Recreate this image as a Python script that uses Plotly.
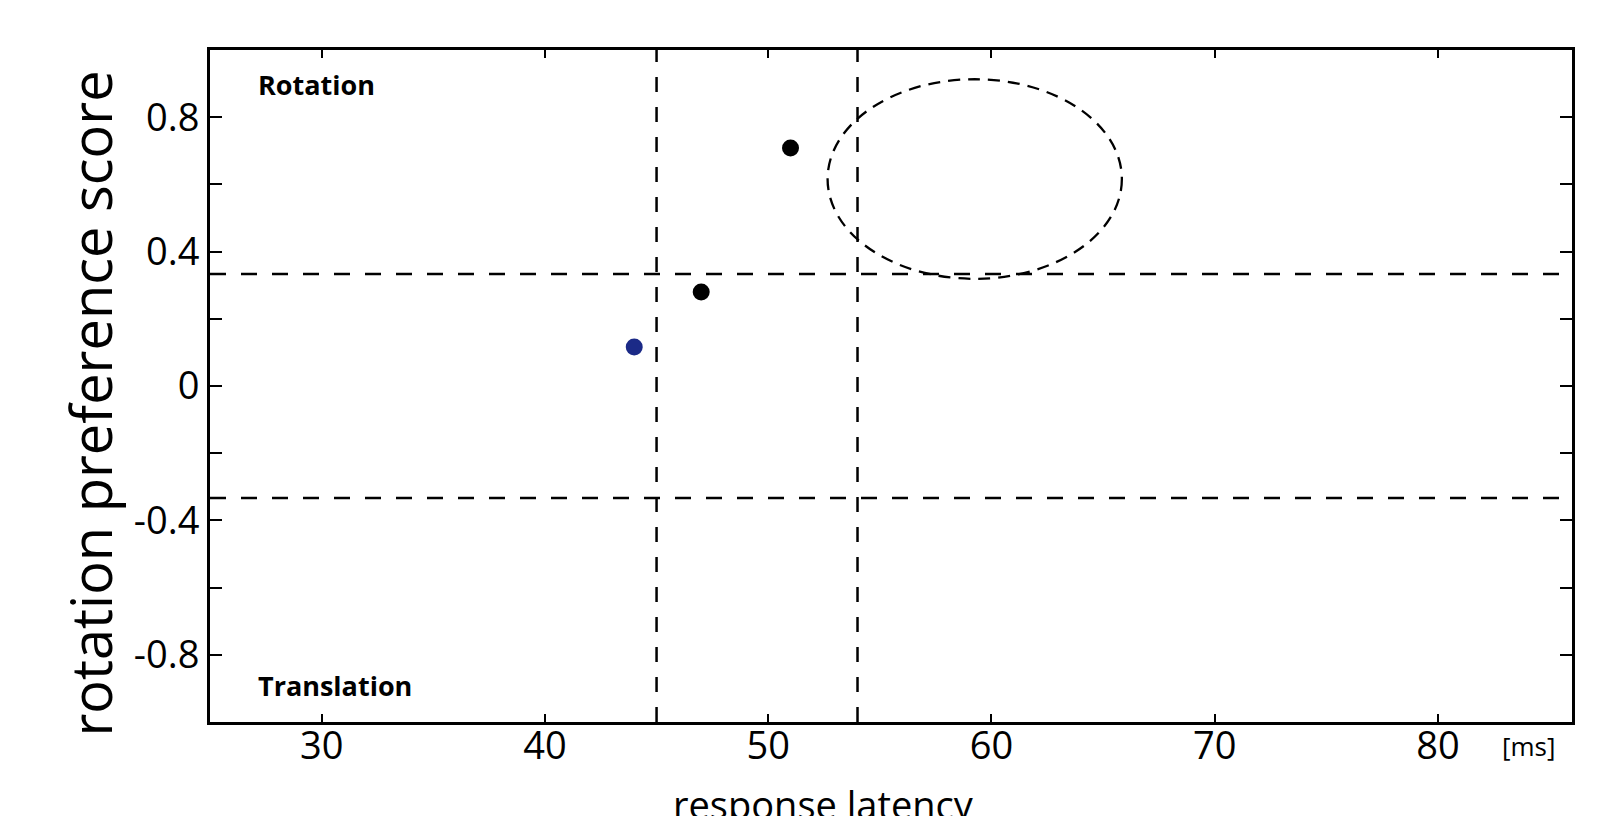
import plotly.graph_objects as go

# ---- data ----
latency_ms = [44.0, 47.0, 51.0]
rotation_score = [0.116, 0.28, 0.708]
point_colors = ["#1b2a87", "#000000", "#000000"]

latency_thresholds = [45.0, 54.0]
score_thresholds = [1/3, -1/3]

ellipse_center = (59.25, 0.616)
ellipse_radius = (6.59, 0.297)

x_range = [25, 86]
y_range = [-1.0, 1.0]
x_ticks = [30, 40, 50, 60, 70, 80]
y_ticks = [-0.8, -0.6, -0.4, -0.2, 0.0, 0.2, 0.4, 0.6, 0.8]
y_ticktext = ["-0.8", "", "-0.4", "", "0", "", "0.4", "", "0.8"]

FONT = "Open Sans"

fig = go.Figure()
fig.add_trace(go.Scatter(
    x=latency_ms, y=rotation_score, mode="markers",
    marker=dict(size=17, color=point_colors, line=dict(width=0)),
    showlegend=False, hoverinfo="skip"))

shapes = []
for xv in latency_thresholds:
    shapes.append(dict(type="line", xref="x", yref="paper", x0=xv, x1=xv, y0=0, y1=1,
                       line=dict(color="black", width=2.5, dash="15px,15px"), layer="below"))
for yv in score_thresholds:
    shapes.append(dict(type="line", xref="paper", yref="y", x0=0, x1=1, y0=yv, y1=yv,
                       line=dict(color="black", width=2.5, dash="16px,15px"), layer="below"))
cx, cy = ellipse_center
rx, ry = ellipse_radius
shapes.append(dict(type="circle", xref="x", yref="y",
                   x0=cx - rx, x1=cx + rx, y0=cy - ry, y1=cy + ry,
                   line=dict(color="black", width=2.3, dash="12px,8px"), layer="below"))

annotations = [
    dict(text="<b>Rotation</b>", xref="paper", yref="paper", x=0.034, y=0.949,
         xanchor="left", yanchor="middle", showarrow=False,
         font=dict(family=FONT, size=27, color="black")),
    dict(text="<b>Translation</b>", xref="paper", yref="paper", x=0.034, y=0.055,
         xanchor="left", yanchor="middle", showarrow=False,
         font=dict(family=FONT, size=27, color="black")),
    dict(text="[ms]", xref="paper", yref="paper", x=(1528 - 210) / 1362, y=(721.7 - 746) / 672.2,
         xanchor="center", yanchor="middle", showarrow=False,
         font=dict(family=FONT, size=26, color="black")),
    dict(text="response latency", xref="paper", yref="paper", x=0.4505, y=-0.081,
         xanchor="center", yanchor="top", showarrow=False,
         font=dict(family=FONT, size=38, color="black")),
    dict(text="rotation preference score", xref="paper", yref="paper", x=-0.088, y=0.474,
         xanchor="center", yanchor="middle", textangle=-90, showarrow=False,
         font=dict(family=FONT, size=56, color="black")),
]

fig.update_layout(
    width=1604, height=816,
    margin=dict(l=210, r=32, t=50, b=94),
    plot_bgcolor="white", paper_bgcolor="white",
    shapes=shapes, annotations=annotations,
    font=dict(family=FONT, color="black"),
    xaxis=dict(range=x_range, tickvals=x_ticks, ticks="inside", ticklen=8, tickwidth=2,
               tickcolor="black", showline=True, linecolor="black", linewidth=3, mirror="allticks",
               showgrid=False, zeroline=False, ticklabelstandoff=-12,
               tickfont=dict(family=FONT, size=38, color="black")),
    yaxis=dict(range=y_range, tickvals=y_ticks, ticktext=y_ticktext, ticks="inside", ticklen=12,
               tickwidth=2, tickcolor="black", showline=True, linecolor="black", linewidth=3,
               mirror="allticks", showgrid=False, zeroline=False, ticklabelstandoff=0,
               tickfont=dict(family=FONT, size=38, color="black")),
)

fig.write_html("out.html")
